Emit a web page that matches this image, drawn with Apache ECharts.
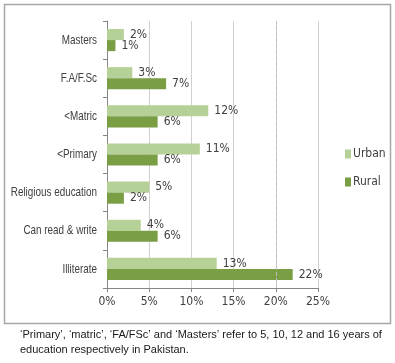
<!DOCTYPE html>
<html><head><meta charset="utf-8">
<script src="https://cdn.jsdelivr.net/npm/echarts@6/dist/echarts.min.js"></script>
<style>html,body{margin:0;padding:0;background:#fff}#c{width:395px;height:363px}</style>
</head><body><div id="c"></div>
<script>
const categories = ['Illiterate', 'Can read & write', 'Religious education', '<Primary', '<Matric', 'F.A/F.Sc', 'Masters'];
const urban = [13, 4, 5, 11, 12, 3, 2];
const rural = [22, 6, 2, 6, 6, 7, 1];
const xTicks = [0, 5, 10, 15, 20, 25];
const caption = ['\u2018Primary\u2019, \u2018matric\u2019, \u2018FA/FSc\u2019 and \u2018Masters\u2019 refer to 5, 10, 12 and 16 years of', 'education respectively in Pakistan.'];

const font = '"DejaVu Sans Condensed", "Liberation Sans", sans-serif';
const chart = echarts.init(document.getElementById('c'), null, {renderer: 'canvas'});
const baseGraphic = [
  {id: 'border', type: 'rect', shape: {x: 4.5, y: 4.5, width: 386, height: 319}, style: {fill: 'none', stroke: '#a6a6a6', lineWidth: 1.5}, silent: true},
  {id: 'cap0', type: 'text', left: 20, top: 329, style: {text: caption[0], font: '11px "Liberation Sans", Arial, sans-serif', fill: '#1a1a1a'}},
  {id: 'cap1', type: 'text', left: 20, top: 344, style: {text: caption[1], font: '11px "Liberation Sans", Arial, sans-serif', fill: '#1a1a1a'}}
];
chart.setOption({
  animation: false,
  grid: {left: 107, right: 77, top: 21, bottom: 75, containLabel: false, outerBoundsMode: 'none'},
  legend: {
    data: ['Urban', 'Rural'], orient: 'vertical', left: 340, top: 143,
    itemWidth: 6, itemHeight: 9, itemGap: 16, icon: 'rect',
    textStyle: {fontFamily: font, fontSize: 12, color: '#404040', padding: [0, 0, 0, -3]}
  },
  xAxis: {
    type: 'value', min: 0, max: 25, interval: 5,
    axisLine: {show: true, lineStyle: {color: '#868686'}},
    axisTick: {show: true, length: 4, lineStyle: {color: '#868686'}},
    axisLabel: {formatter: v => xTicks.includes(v) ? v + '%' : '', fontFamily: font, fontSize: 12, color: '#404040', margin: 8},
    splitLine: {show: true, lineStyle: {color: '#d0d0d0'}}
  },
  yAxis: {
    type: 'category', data: categories,
    axisLine: {show: true, lineStyle: {color: '#868686'}},
    axisTick: {show: true, length: 4, inside: false, lineStyle: {color: '#868686'}},
    axisLabel: {show: false}
  },
  series: [
    {
      name: 'Urban', type: 'bar', data: urban, barGap: '0%', barCategoryGap: '42%',
      itemStyle: {color: '#b6d197'},
      label: {show: true, position: 'right', distance: 6, formatter: '{c}%', fontFamily: font, fontSize: 12, color: '#404040'}
    },
    {
      name: 'Rural', type: 'bar', data: rural, barGap: '0%', barCategoryGap: '42%',
      itemStyle: {color: '#7a9e44'},
      label: {show: true, position: 'right', distance: 6, formatter: '{c}%', fontFamily: font, fontSize: 12, color: '#404040'},
      markLine: {silent: true, symbol: 'none', label: {show: false},
        lineStyle: {type: 'dashed', color: '#bdbdbd', width: 1}, data: [{xAxis: 20}]}
    }
  ],
  graphic: baseGraphic
});
// Category labels (narrow, Calibri-like) placed through the axis scale
const axisX = chart.convertToPixel({xAxisIndex: 0}, 0);
const catLabels = categories.map((c, i) => ({
  id: 'cat' + i, type: 'text', x: axisX - 10, y: chart.convertToPixel({yAxisIndex: 0}, c),
  scaleX: 0.76, silent: true,
  style: {text: c, x: 0, y: 0, align: 'right', verticalAlign: 'middle', font: '13px "Liberation Sans", Arial, sans-serif', fill: '#404040'}
}));
chart.setOption({graphic: baseGraphic.concat(catLabels)});
</script></body></html>
